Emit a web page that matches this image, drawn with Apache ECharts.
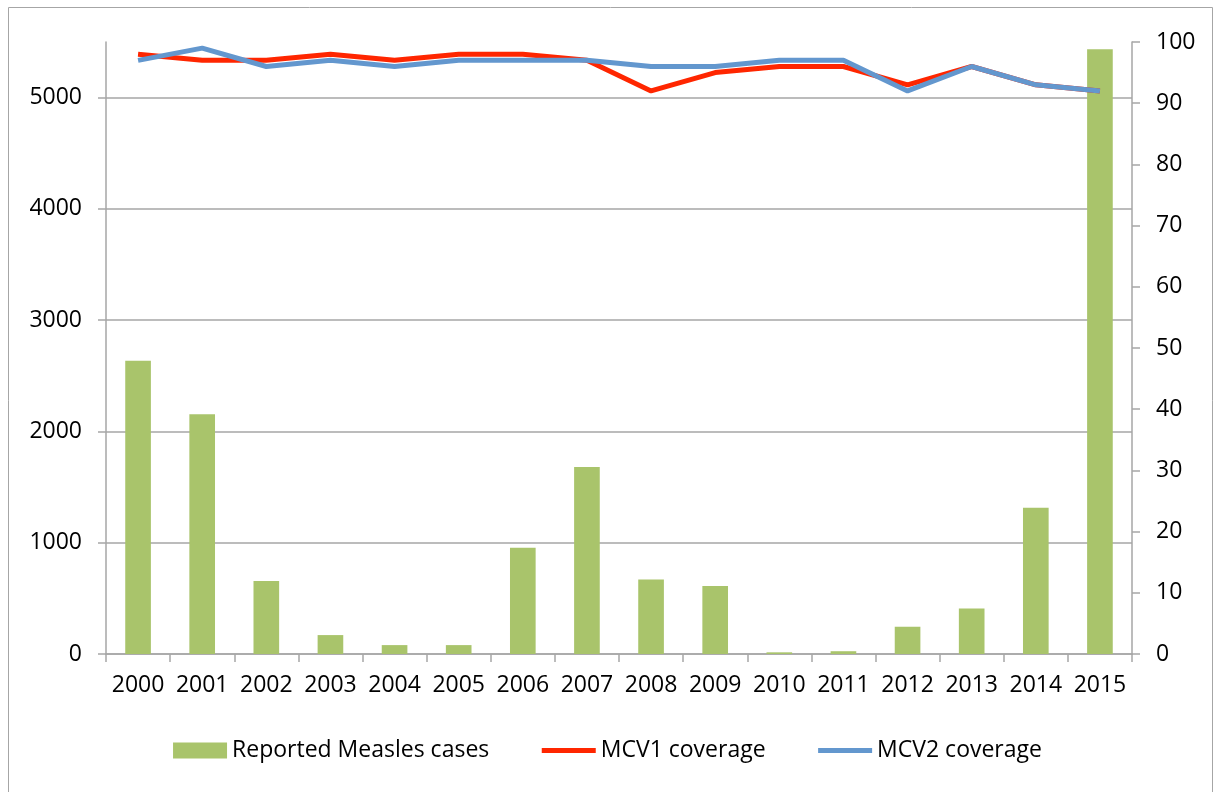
<!DOCTYPE html>
<html>
<head>
<meta charset="utf-8">
<script src="https://cdn.jsdelivr.net/npm/echarts@6/dist/echarts.min.js"></script>
<style>
  html, body { margin: 0; padding: 0; background: #fff; }
  #chart { width: 1215px; height: 792px; }
</style>
</head>
<body>
<div id="chart"></div>
<script>
var years = ['2000', '2001', '2002', '2003', '2004', '2005', '2006', '2007',
  '2008', '2009', '2010', '2011', '2012', '2013', '2014', '2015']
var measlesCases = [2635, 2155, 655, 170, 80, 80, 955, 1680, 670, 610, 15, 25, 245, 410, 1315, 5435]
var mcv1 = [98, 97, 97, 98, 97, 98, 98, 97, 92, 95, 96, 96, 93, 96, 93, 92]
var mcv2 = [97, 99, 96, 97, 96, 97, 97, 97, 96, 96, 97, 97, 92, 96, 93, 92]
var leftTicks = [0, 1000, 2000, 3000, 4000, 5000]

var gray = '#a6a6a6'
var font = '"Open Sans", "Liberation Sans", sans-serif'

var chart = echarts.init(document.getElementById('chart'))
chart.setOption({
  animation: false,
  textStyle: { fontFamily: font },
  graphic: [{
    type: 'rect',
    shape: { x: 8.5, y: 7.5, width: 1204, height: 800 },
    style: { fill: 'none', stroke: gray, lineWidth: 1 },
    silent: true
  }],
  grid: { left: 106, right: 83, top: 42, bottom: 138 },
  legend: {
    bottom: 25,
    left: 'center',
    itemWidth: 54,
    itemHeight: 16,
    itemGap: 50,
    textStyle: { fontSize: 23, color: '#000', fontFamily: font },
    data: [
      { name: 'Reported Measles cases', icon: 'rect' },
      { name: 'MCV1 coverage', itemStyle: { opacity: 0 }, lineStyle: { width: 5 } },
      { name: 'MCV2 coverage', itemStyle: { opacity: 0 }, lineStyle: { width: 5 } }
    ]
  },
  xAxis: {
    type: 'category',
    data: years,
    boundaryGap: true,
    axisLine: { lineStyle: { color: gray, width: 1.5 } },
    axisTick: { show: true, length: 8, lineStyle: { color: gray, width: 1.5 } },
    axisLabel: { color: '#000', fontSize: 23, margin: 20, interval: 0 }
  },
  yAxis: [{
    type: 'value',
    min: 0,
    max: 5500,
    interval: 1000,
    axisLine: { show: true, lineStyle: { color: gray, width: 1.5 } },
    axisTick: { show: true, length: 8, customValues: leftTicks, lineStyle: { color: gray, width: 1.5 } },
    axisLabel: {
      color: '#000', fontSize: 23, margin: 24, customValues: leftTicks,
      formatter: function(v) { return String(v) }
    },
    splitLine: { show: true, lineStyle: { color: gray, width: 1.5 } }
  }, {
    type: 'value',
    min: 0,
    max: 100,
    interval: 10,
    position: 'right',
    axisLine: { show: true, lineStyle: { color: gray, width: 1.5 } },
    axisTick: { show: true, length: 8, lineStyle: { color: gray, width: 1.5 } },
    axisLabel: { color: '#000', fontSize: 23, margin: 24 },
    splitLine: { show: false }
  }],
  series: [{
    name: 'Reported Measles cases',
    type: 'bar',
    yAxisIndex: 0,
    data: measlesCases,
    barWidth: '40%',
    itemStyle: { color: '#a9c46b' }
  }, {
    name: 'MCV1 coverage',
    type: 'line',
    yAxisIndex: 1,
    data: mcv1,
    showSymbol: false,
    symbol: 'none',
    lineStyle: { color: '#ff2600', width: 5 },
    itemStyle: { color: '#ff2600' }
  }, {
    name: 'MCV2 coverage',
    type: 'line',
    yAxisIndex: 1,
    data: mcv2,
    showSymbol: false,
    symbol: 'none',
    lineStyle: { color: '#6397ce', width: 5 },
    itemStyle: { color: '#6397ce' }
  }]
})
</script>
</body>
</html>
